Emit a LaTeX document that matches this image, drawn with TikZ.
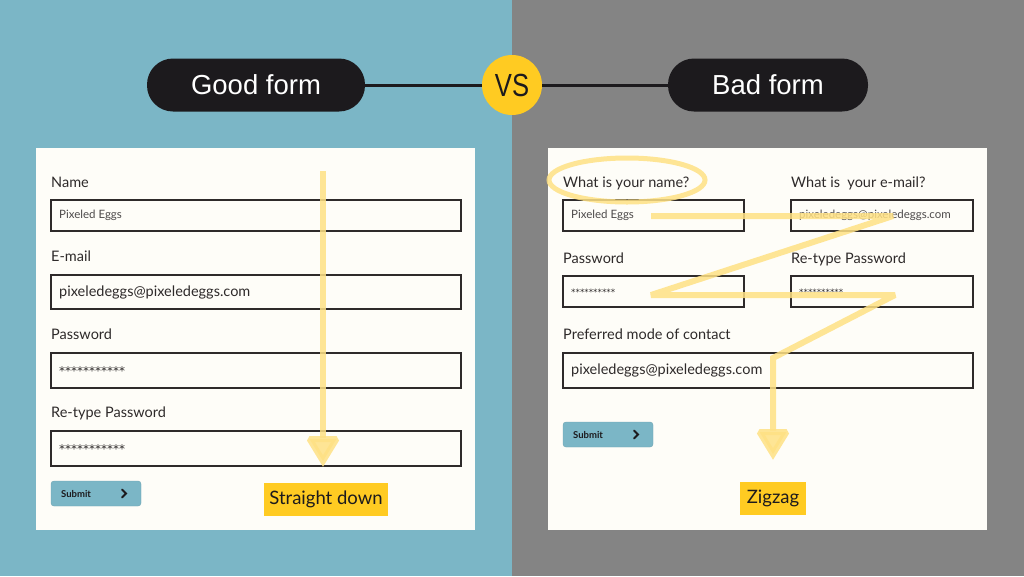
\documentclass[tikz,border=0pt]{standalone}
\usepackage{fontspec}
\setmainfont{Lato}
\newfontfamily\headfont{Liberation Sans}
\newfontfamily\starfont{DejaVu Sans}
\usetikzlibrary{arrows.meta}
\definecolor{bgblue}{HTML}{7BB6C6}
\definecolor{bggray}{HTML}{848484}
\definecolor{cardfill}{HTML}{FEFDF8}
\definecolor{ink}{HTML}{2E2A2A}
\definecolor{pillink}{HTML}{1C1A1D}
\definecolor{vsyellow}{HTML}{FFCB22}
\definecolor{trail}{HTML}{FFE184}
\begin{document}
\begin{tikzpicture}[x=1pt,y=-1pt,
  cardbox/.style={fill=cardfill, draw=none},
  fieldbox/.style={draw=ink, line width=1.6pt, fill=cardfill, anchor=north west, inner sep=0pt, outer sep=0pt},
  lbl/.style={anchor=base west, inner sep=0pt, text=ink, font=\fontsize{14.5}{16}\selectfont},
  bigval/.style={anchor=west, inner sep=0pt, text=ink, font=\fontsize{14.5}{16}\selectfont},
  smallval/.style={anchor=west, inner sep=0pt, text=ink!85, font=\fontsize{11.5}{13}\selectfont},
  stars/.style={anchor=west, inner sep=0pt, text=ink, font=\starfont\fontsize{12}{14}\selectfont},
  smallstars/.style={anchor=west, inner sep=0pt, text=ink, font=\starfont\fontsize{8.8}{10}\selectfont},
  submitbtn/.style={fill=bgblue, draw=bgblue!90!black, line width=0.4pt, rounded corners=3pt, anchor=north west, inner sep=0pt, outer sep=0pt, minimum width=90pt, minimum height=25pt},
  btntext/.style={anchor=west, inner sep=0pt, text=pillink, font=\fontsize{9.5}{11}\bfseries\selectfont},
  chev/.style={draw=pillink, line width=2pt, line cap=round, line join=miter},
  pillbox/.style={fill=pillink, rounded corners=26pt, minimum height=53pt, text=white, font=\headfont\fontsize{27.5}{30}\selectfont, inner sep=0pt},
  tagbox/.style={fill=vsyellow, text=pillink, inner sep=0pt, font=\fontsize{18.5}{20}\selectfont},
  trailline/.style={draw=trail, line width=6pt, opacity=0.85, miter limit=2,
     -{Triangle[width=36pt,length=31pt]}},
]
\useasboundingbox (0,0) rectangle (1024,576);
% backgrounds
\fill[bgblue] (0,0) rectangle (512,576);
\fill[bggray] (512,0) rectangle (1024,576);

% header
\node[pillbox, minimum width=218pt] (good) at (256,85) {Good form};
\node[pillbox, minimum width=200pt] (bad) at (768,85) {Bad form};
\node[circle, fill=vsyellow, minimum size=60pt, inner sep=0pt,
      font=\headfont\fontsize{32}{34}\selectfont, text=pillink] (vs) at (512,85) {\scalebox{0.8}[1]{VS}};
\draw[pillink, line width=3pt] (good.east) -- (vs.west);
\draw[pillink, line width=3pt] (vs.east) -- (bad.west);

% cards
\fill[cardbox] (36,148) rectangle (475,530);
\fill[cardbox] (548,148) rectangle (987,530);

% ===== Good form =====
\node[lbl] (lname) at (51,187) {Name};
\node[fieldbox, minimum width=410pt, minimum height=31pt] (f1) at (51,200) {};
\node[smallval] (v1) at ([xshift=8pt]f1.west) {Pixeled Eggs};

\node[lbl] (lmail) at (51,261) {E-mail};
\node[fieldbox, minimum width=410pt, minimum height=34pt] (f2) at (51,275) {};
\node[bigval] (v2) at ([xshift=8pt]f2.west) {pixeledeggs@pixeledeggs.com};

\node[lbl] (lpw) at (51,339) {Password};
\node[fieldbox, minimum width=410pt, minimum height=35pt] (f3) at (51,353) {};
\node[stars] (v3) at ([xshift=8pt,yshift=-1pt]f3.west) {***********};

\node[lbl] (lrpw) at (51,417) {Re-type Password};
\node[fieldbox, minimum width=410pt, minimum height=35pt] (f4) at (51,431) {};
\node[stars] (v4) at ([xshift=8pt,yshift=-1pt]f4.west) {***********};

\node[submitbtn] (sub1) at (51,481) {};
\node[btntext] (sub1t) at ([xshift=10pt]sub1.west) {Submit};
\draw[chev] ([xshift=-19pt,yshift=4pt]sub1.east) -- ([xshift=-15pt]sub1.east) -- ([xshift=-19pt,yshift=-4pt]sub1.east);

\node[tagbox, minimum width=124pt, minimum height=33pt] (tag1) at (326,499.5) {Straight down};

\coordinate (g0) at (323,171);
\coordinate (g1) at (323,467);
\draw[trailline] (g0) -- (g1);

% ===== Bad form =====
\node[lbl] (rname) at (563,187) {What is your name?};
\node[lbl] (rmail) at (791,187) {What is~ your e-mail?};
\node[fieldbox, minimum width=181pt, minimum height=31pt] (f5) at (563,200) {};
\node[smallval] (v5) at ([xshift=8pt]f5.west) {Pixeled Eggs};
\node[fieldbox, minimum width=182pt, minimum height=31pt] (f6) at (791,200) {};
\node[smallval] (v6) at ([xshift=8pt]f6.west) {pixeledeggs@pixeledeggs.com};

\node[lbl] (rpw) at (563,263) {Password};
\node[lbl] (rrpw) at (791,263) {Re-type Password};
\node[fieldbox, minimum width=181pt, minimum height=31pt] (f7) at (563,276) {};
\node[smallstars] (v7) at ([xshift=8pt,yshift=-1pt]f7.west) {**********};
\node[fieldbox, minimum width=182pt, minimum height=31pt] (f8) at (791,276) {};
\node[smallstars] (v8) at ([xshift=8pt,yshift=-1pt]f8.west) {**********};

\node[lbl] (rpref) at (563,339) {Preferred mode of contact};
\node[fieldbox, minimum width=410pt, minimum height=35pt] (f9) at (563,353) {};
\node[bigval] (v9) at ([xshift=8pt]f9.west) {pixeledeggs@pixeledeggs.com};

\node[submitbtn] (sub2) at (563,422) {};
\node[btntext] (sub2t) at ([xshift=10pt]sub2.west) {Submit};
\draw[chev] ([xshift=-19pt,yshift=4pt]sub2.east) -- ([xshift=-15pt]sub2.east) -- ([xshift=-19pt,yshift=-4pt]sub2.east);

\node[tagbox, minimum width=66pt, minimum height=33pt] (tag2) at (773,498.5) {Zigzag};

\draw[trail, line width=5pt, opacity=0.85] (627,180) ellipse [x radius=78pt, y radius=22pt];

\coordinate (z0) at (651,216);
\coordinate (z1) at (893,216);
\coordinate (z2) at (651,295);
\coordinate (z3) at (895,295);
\coordinate (z4) at (773,358);
\coordinate (z5) at (773,460);
\draw[trailline] (z0) -- (z1) -- (z2) -- (z3) -- (z4) -- (z5);
\end{tikzpicture}
\end{document}
